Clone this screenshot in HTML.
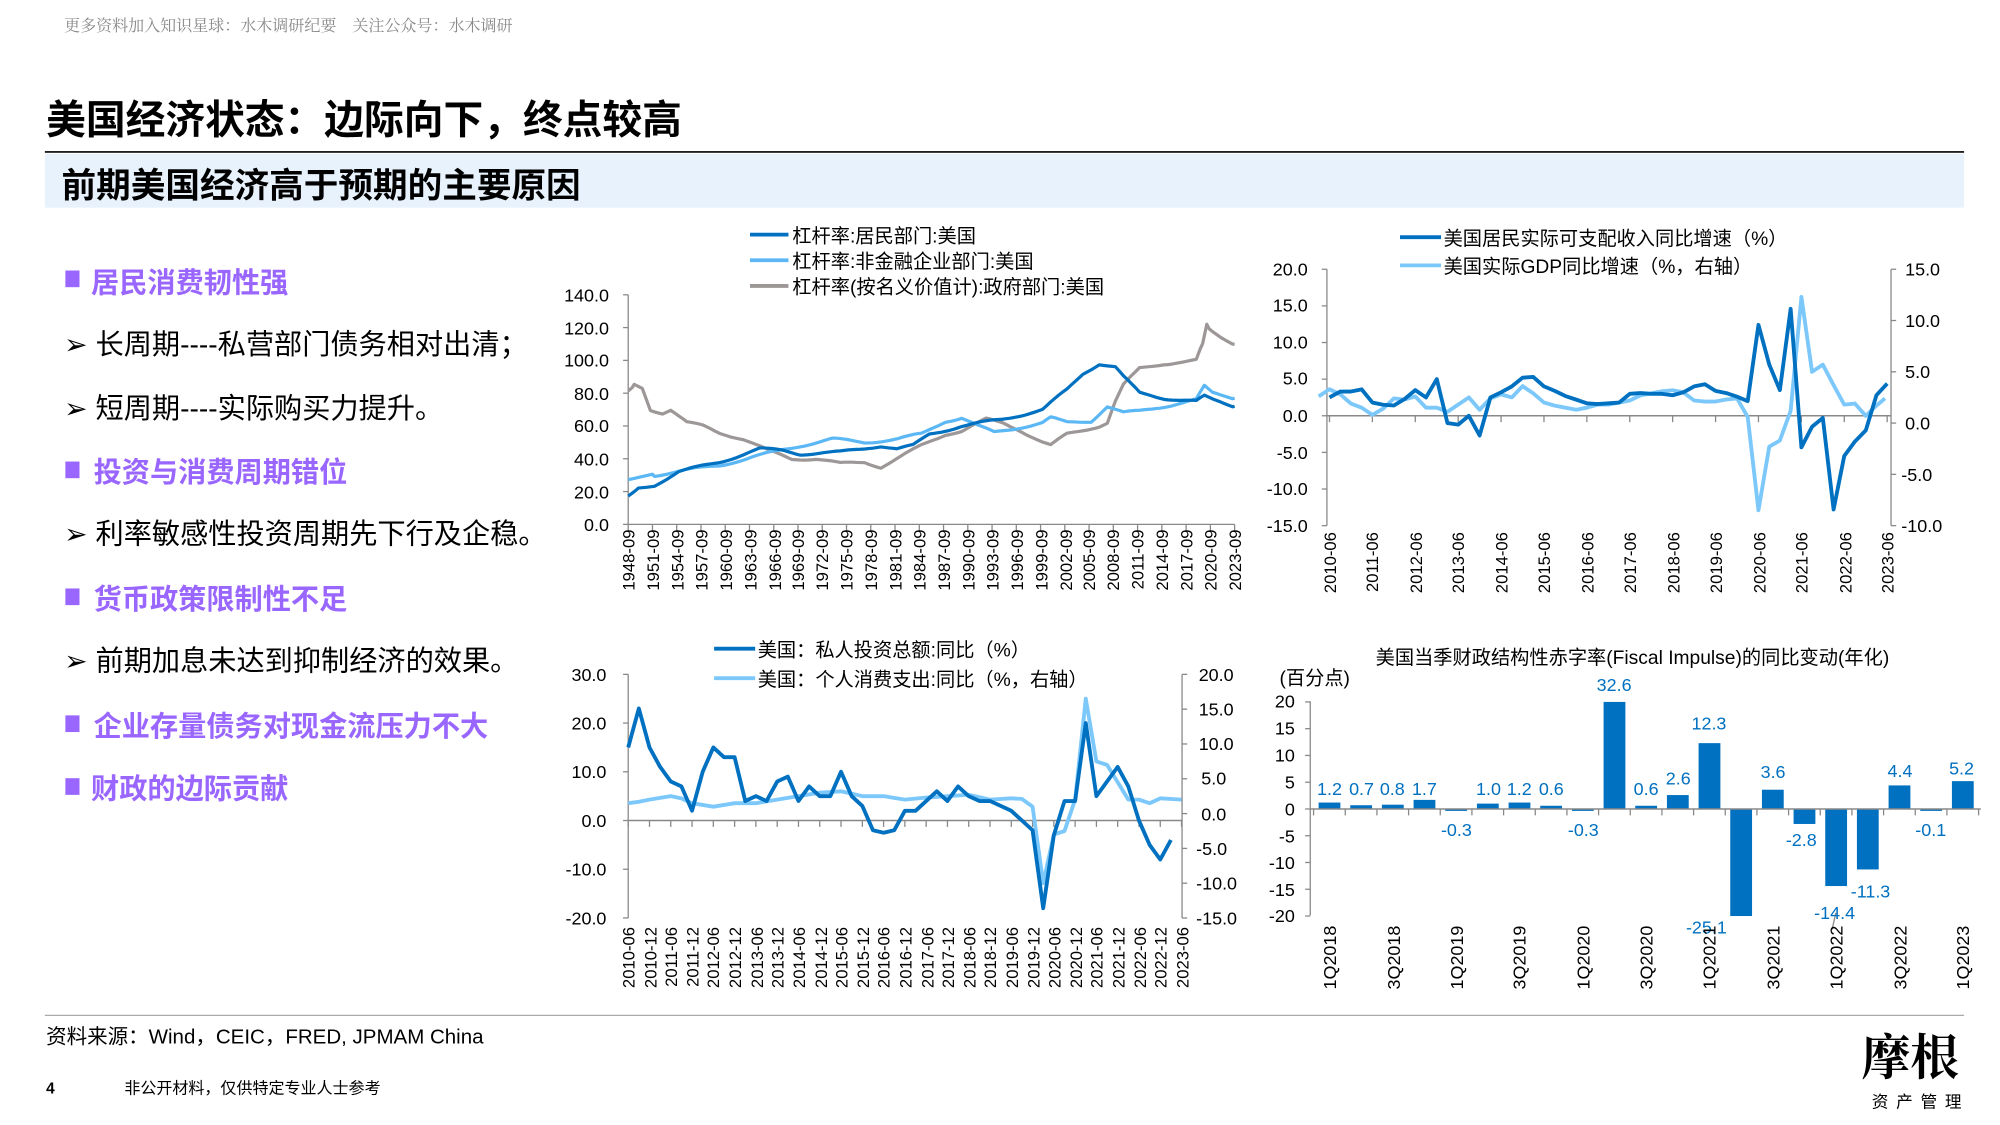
<!DOCTYPE html>
<html><head><meta charset="utf-8">
<style>
html,body{margin:0;padding:0;background:#fff;}
svg{display:block;}
text{font-family:"Liberation Sans","Noto Sans CJK SC",sans-serif;}
.t{font-size:14px;fill:#000;}
.lg{font-size:15px;fill:#000;}
.ax{stroke:#888;stroke-width:1;fill:none;}
</style></head>
<body>
<svg id="s" width="2000" height="1125" viewBox="0 0 1560 877.5" preserveAspectRatio="none" xmlns="http://www.w3.org/2000/svg">
<text x="50" y="24" style="font-size:12.5px;fill:#888;font-family:'Noto Serif CJK SC',serif">更多资料加入知识星球：水木调研纪要　关注公众号：水木调研</text>
<text x="36" y="104" style="font-size:31px;font-weight:bold;fill:#000">美国经济状态：边际向下，终点较高</text>
<line x1="35" y1="118.5" x2="1532" y2="118.5" stroke="#000" stroke-width="1.2"/>
<rect x="35" y="120" width="1497" height="42" fill="#e8f2fc"/>
<text x="48" y="154" style="font-size:27px;font-weight:bold;fill:#000">前期美国经济高于预期的主要原因</text>

<g style="font-size:22px">
<rect x="51" y="211" width="11" height="13" fill="#9966ff"/><text x="71" y="228" style="font-weight:bold;fill:#9966ff">居民消费韧性强</text>
<text x="50" y="276" fill="#000">➢ 长周期----私营部门债务相对出清；</text>
<text x="50" y="326" fill="#000">➢ 短周期----实际购买力提升。</text>
<rect x="51" y="360" width="11" height="13" fill="#9966ff"/><text x="73" y="376" style="font-weight:bold;fill:#9966ff">投资与消费周期错位</text>
<text x="50" y="424" fill="#000">➢ 利率敏感性投资周期先下行及企稳。</text>
<rect x="51" y="459" width="11" height="13" fill="#9966ff"/><text x="73" y="475" style="font-weight:bold;fill:#9966ff">货币政策限制性不足</text>
<text x="50" y="523" fill="#000">➢ 前期加息未达到抑制经济的效果。</text>
<rect x="51" y="558" width="11" height="13" fill="#9966ff"/><text x="73" y="574" style="font-weight:bold;fill:#9966ff">企业存量债务对现金流压力不大</text>
<rect x="51" y="607" width="11" height="13" fill="#9966ff"/><text x="71" y="623" style="font-weight:bold;fill:#9966ff">财政的边际贡献</text>
</g>

<!-- Chart 1 -->
<g>
<line x1="585" y1="183" x2="615" y2="183" stroke="#0070c0" stroke-width="3"/><text class="lg" x="618" y="189">杠杆率:居民部门:美国</text>
<line x1="585" y1="203" x2="615" y2="203" stroke="#5bb8f5" stroke-width="3"/><text class="lg" x="618" y="209">杠杆率:非金融企业部门:美国</text>
<line x1="585" y1="223" x2="615" y2="223" stroke="#9d9797" stroke-width="3"/><text class="lg" x="618" y="229">杠杆率(按名义价值计):政府部门:美国</text>
<line class="ax" x1="490" y1="230" x2="490" y2="409"/>
<line class="ax" x1="490" y1="409" x2="963" y2="409"/>
<g class="t" text-anchor="end">
<text x="475" y="235">140.0</text><text x="475" y="261">120.0</text><text x="475" y="286">100.0</text><text x="475" y="312">80.0</text><text x="475" y="337">60.0</text><text x="475" y="363">40.0</text><text x="475" y="389">20.0</text><text x="475" y="414">0.0</text>
</g>
<g id="c1ticks"></g>
<g class="t" text-anchor="end" style="font-size:13px">
<text transform="translate(495,413) rotate(-90)">1948-09</text>
<text transform="translate(514,413) rotate(-90)">1951-09</text>
<text transform="translate(533,413) rotate(-90)">1954-09</text>
<text transform="translate(552,413) rotate(-90)">1957-09</text>
<text transform="translate(571,413) rotate(-90)">1960-09</text>
<text transform="translate(590,413) rotate(-90)">1963-09</text>
<text transform="translate(609,413) rotate(-90)">1966-09</text>
<text transform="translate(627,413) rotate(-90)">1969-09</text>
<text transform="translate(646,413) rotate(-90)">1972-09</text>
<text transform="translate(665,413) rotate(-90)">1975-09</text>
<text transform="translate(684,413) rotate(-90)">1978-09</text>
<text transform="translate(703,413) rotate(-90)">1981-09</text>
<text transform="translate(722,413) rotate(-90)">1984-09</text>
<text transform="translate(741,413) rotate(-90)">1987-09</text>
<text transform="translate(760,413) rotate(-90)">1990-09</text>
<text transform="translate(779,413) rotate(-90)">1993-09</text>
<text transform="translate(798,413) rotate(-90)">1996-09</text>
<text transform="translate(817,413) rotate(-90)">1999-09</text>
<text transform="translate(836,413) rotate(-90)">2002-09</text>
<text transform="translate(854,413) rotate(-90)">2005-09</text>
<text transform="translate(873,413) rotate(-90)">2008-09</text>
<text transform="translate(892,413) rotate(-90)">2011-09</text>
<text transform="translate(911,413) rotate(-90)">2014-09</text>
<text transform="translate(930,413) rotate(-90)">2017-09</text>
<text transform="translate(949,413) rotate(-90)">2020-09</text>
<text transform="translate(968,413) rotate(-90)">2023-09</text>
</g>
<g id="c1"></g>
</g>

<!-- Chart 2 -->
<g>
<line x1="1092" y1="185" x2="1124" y2="185" stroke="#0070c0" stroke-width="3"/><text class="lg" x="1126" y="191">美国居民实际可支配收入同比增速（%）</text>
<line x1="1092" y1="207" x2="1124" y2="207" stroke="#7cc8fb" stroke-width="3"/><text class="lg" x="1126" y="213">美国实际GDP同比增速（%，右轴）</text>
<line class="ax" x1="1035" y1="210" x2="1035" y2="410"/>
<line class="ax" x1="1475" y1="210" x2="1475" y2="410"/>
<g class="t" text-anchor="end">
<text x="1020" y="215">20.0</text><text x="1020" y="243">15.0</text><text x="1020" y="272">10.0</text><text x="1020" y="300">5.0</text><text x="1020" y="329">0.0</text><text x="1020" y="358">-5.0</text><text x="1020" y="386">-10.0</text><text x="1020" y="415">-15.0</text>
</g>
<g class="t">
<text x="1486" y="215">15.0</text><text x="1486" y="255">10.0</text><text x="1486" y="295">5.0</text><text x="1486" y="335">0.0</text><text x="1483" y="375">-5.0</text><text x="1483" y="415">-10.0</text>
</g>
<g id="c2ticks"></g>
<g class="t" text-anchor="end" style="font-size:13px">
<text transform="translate(1042,415) rotate(-90)">2010-06</text>
<text transform="translate(1075,415) rotate(-90)">2011-06</text>
<text transform="translate(1109,415) rotate(-90)">2012-06</text>
<text transform="translate(1142,415) rotate(-90)">2013-06</text>
<text transform="translate(1176,415) rotate(-90)">2014-06</text>
<text transform="translate(1209,415) rotate(-90)">2015-06</text>
<text transform="translate(1243,415) rotate(-90)">2016-06</text>
<text transform="translate(1276,415) rotate(-90)">2017-06</text>
<text transform="translate(1310,415) rotate(-90)">2018-06</text>
<text transform="translate(1343,415) rotate(-90)">2019-06</text>
<text transform="translate(1377,415) rotate(-90)">2020-06</text>
<text transform="translate(1410,415) rotate(-90)">2021-06</text>
<text transform="translate(1444,415) rotate(-90)">2022-06</text>
<text transform="translate(1477,415) rotate(-90)">2023-06</text>
</g>
<g id="c2"></g>
</g>

<!-- Chart 3 -->
<g>
<line x1="557" y1="506" x2="589" y2="506" stroke="#0070c0" stroke-width="3"/><text class="lg" x="591" y="512">美国：私人投资总额:同比（%）</text>
<line x1="557" y1="529" x2="589" y2="529" stroke="#7cc8fb" stroke-width="3"/><text class="lg" x="591" y="535">美国：个人消费支出:同比（%，右轴）</text>
<line class="ax" x1="490" y1="526" x2="490" y2="716"/>
<line class="ax" x1="922" y1="526" x2="922" y2="716"/>
<g class="t" text-anchor="end">
<text x="473" y="531">30.0</text><text x="473" y="569">20.0</text><text x="473" y="607">10.0</text><text x="473" y="645">0.0</text><text x="473" y="683">-10.0</text><text x="473" y="721">-20.0</text>
</g>
<g class="t">
<text x="935" y="531">20.0</text><text x="935" y="558">15.0</text><text x="935" y="585">10.0</text><text x="937" y="612">5.0</text><text x="937" y="640">0.0</text><text x="933" y="667">-5.0</text><text x="933" y="694">-10.0</text><text x="933" y="721">-15.0</text>
</g>
<g id="c3ticks"></g>
<g class="t" text-anchor="end" style="font-size:13px" id="c3lab">
<text transform="translate(495,723) rotate(-90)">2010-06</text>
<text transform="translate(512,723) rotate(-90)">2010-12</text>
<text transform="translate(528,723) rotate(-90)">2011-06</text>
<text transform="translate(545,723) rotate(-90)">2011-12</text>
<text transform="translate(561,723) rotate(-90)">2012-06</text>
<text transform="translate(578,723) rotate(-90)">2012-12</text>
<text transform="translate(595,723) rotate(-90)">2013-06</text>
<text transform="translate(611,723) rotate(-90)">2013-12</text>
<text transform="translate(628,723) rotate(-90)">2014-06</text>
<text transform="translate(645,723) rotate(-90)">2014-12</text>
<text transform="translate(661,723) rotate(-90)">2015-06</text>
<text transform="translate(678,723) rotate(-90)">2015-12</text>
<text transform="translate(694,723) rotate(-90)">2016-06</text>
<text transform="translate(711,723) rotate(-90)">2016-12</text>
<text transform="translate(728,723) rotate(-90)">2017-06</text>
<text transform="translate(744,723) rotate(-90)">2017-12</text>
<text transform="translate(761,723) rotate(-90)">2018-06</text>
<text transform="translate(777,723) rotate(-90)">2018-12</text>
<text transform="translate(794,723) rotate(-90)">2019-06</text>
<text transform="translate(811,723) rotate(-90)">2019-12</text>
<text transform="translate(827,723) rotate(-90)">2020-06</text>
<text transform="translate(844,723) rotate(-90)">2020-12</text>
<text transform="translate(860,723) rotate(-90)">2021-06</text>
<text transform="translate(877,723) rotate(-90)">2021-12</text>
<text transform="translate(894,723) rotate(-90)">2022-06</text>
<text transform="translate(910,723) rotate(-90)">2022-12</text>
<text transform="translate(927,723) rotate(-90)">2023-06</text>
</g>
<g id="c3"></g>
</g>

<!-- Chart 4 -->
<g>
<text class="lg" x="1073" y="518">美国当季财政结构性赤字率(Fiscal Impulse)的同比变动(年化)</text>
<text class="lg" x="998" y="534">(百分点)</text>
<line class="ax" x1="1022" y1="547" x2="1022" y2="714"/>
<g class="t" text-anchor="end">
<text x="1010" y="552">20</text><text x="1010" y="573">15</text><text x="1010" y="594">10</text><text x="1010" y="615">5</text><text x="1010" y="636">0</text><text x="1010" y="657">-5</text><text x="1010" y="678">-10</text><text x="1010" y="699">-15</text><text x="1010" y="719">-20</text>
</g>
<g id="c4"></g>
<g class="t" text-anchor="middle" style="fill:#0070c0">
<text x="1037" y="620">1.2</text><text x="1062" y="620">0.7</text><text x="1086" y="620">0.8</text><text x="1111" y="620">1.7</text>
<text x="1136" y="652">-0.3</text><text x="1161" y="620">1.0</text><text x="1185" y="620">1.2</text><text x="1210" y="620">0.6</text>
<text x="1235" y="652">-0.3</text><text x="1259" y="539">32.6</text><text x="1284" y="620">0.6</text><text x="1309" y="612">2.6</text>
<text x="1333" y="569">12.3</text><text x="1331" y="728">-25.1</text><text x="1383" y="607">3.6</text><text x="1405" y="660">-2.8</text>
<text x="1431" y="717">-14.4</text><text x="1459" y="700">-11.3</text><text x="1482" y="606">4.4</text><text x="1506" y="652">-0.1</text><text x="1530" y="604">5.2</text>
</g>
<g class="t" text-anchor="end" style="font-size:14px">
<text transform="translate(1042,722) rotate(-90)">1Q2018</text>
<text transform="translate(1092,722) rotate(-90)">3Q2018</text>
<text transform="translate(1141,722) rotate(-90)">1Q2019</text>
<text transform="translate(1190,722) rotate(-90)">3Q2019</text>
<text transform="translate(1240,722) rotate(-90)">1Q2020</text>
<text transform="translate(1289,722) rotate(-90)">3Q2020</text>
<text transform="translate(1338,722) rotate(-90)">1Q2021</text>
<text transform="translate(1388,722) rotate(-90)">3Q2021</text>
<text transform="translate(1437,722) rotate(-90)">1Q2022</text>
<text transform="translate(1487,722) rotate(-90)">3Q2022</text>
<text transform="translate(1536,722) rotate(-90)">1Q2023</text>
</g>
</g>

<line x1="35" y1="792" x2="1532" y2="792" stroke="#aaa" stroke-width="1"/>
<text x="36" y="814" style="font-size:16px;fill:#000">资料来源：Wind，CEIC，FRED, JPMAM China</text>
<text x="36" y="853" style="font-size:12px;font-weight:bold;fill:#000">4</text>
<text x="97" y="853" style="font-size:12.5px;fill:#000">非公开材料，仅供特定专业人士参考</text>
<text x="1452" y="838" style="font-size:38px;font-weight:bold;fill:#000;font-family:'Noto Serif CJK SC',serif">摩根</text>
<text x="1460" y="864" style="font-size:13px;fill:#000;letter-spacing:6px">资产管理</text>
</svg>
<script>
var NS="http://www.w3.org/2000/svg";
function pl(id,pts,col,w){var p=document.createElementNS(NS,"polyline");p.setAttribute("points",pts.map(function(a){return a[0].toFixed(1)+","+a[1].toFixed(1)}).join(" "));p.setAttribute("fill","none");p.setAttribute("stroke",col);p.setAttribute("stroke-width",w);p.setAttribute("stroke-linejoin","round");document.getElementById(id).appendChild(p);}
function ln(id,x1,y1,x2,y2,c,w){var l=document.createElementNS(NS,"line");l.setAttribute("x1",x1);l.setAttribute("y1",y1);l.setAttribute("x2",x2);l.setAttribute("y2",y2);l.setAttribute("stroke",c||"#888");l.setAttribute("stroke-width",w||1);document.getElementById(id).appendChild(l);}
function rect(id,x,y,w,h,c){var r=document.createElementNS(NS,"rect");r.setAttribute("x",x);r.setAttribute("y",y);r.setAttribute("width",w);r.setAttribute("height",h);r.setAttribute("fill",c);document.getElementById(id).appendChild(r);}
function interp(d,step){var out=[];for(var i=0;i<d.length-1;i++){var a=d[i],b=d[i+1];for(var t=a[0];t<b[0]-1e-6;t+=step){var f=(t-a[0])/(b[0]-a[0]);out.push([t,a[1]+(b[1]-a[1])*f+(Math.sin(t*37)*0.8)]);}}out.push(d[d.length-1]);return out;}
// chart1
var X1=function(y){return 490+(y-1948.75)*6.307},Y1=function(v){return 409-v*1.279};
for(var i=0;i<26;i++)ln("c1ticks",490+i*18.92,409,490+i*18.92,414);
[0,20,40,60,80,100,120,140].forEach(function(v){ln("c1ticks",486,Y1(v),490,Y1(v));});
var hh=[[1948.75,18],[1950,22],[1952,24],[1955,32],[1960,38],[1965,46],[1968,45],[1970,43],[1975,44],[1980,48],[1982,46],[1984,48],[1986,55],[1990,60],[1995,64],[2000,70],[2003,82],[2005,92],[2007,98],[2009,96],[2010,90],[2012,80],[2015,77],[2019,75],[2020,78],[2021,76],[2023.75,72]];
var nf=[[1948.75,28],[1952,30],[1960,36],[1965,42],[1970,48],[1974,52],[1978,50],[1982,52],[1985,55],[1988,63],[1990,65],[1992,60],[1994,56],[2000,62],[2001,65],[2003,62],[2006,63],[2008,72],[2010,68],[2012,69],[2015,72],[2019,76],[2020,84],[2021,80],[2023.75,77]];
var gv=[[1948.75,82],[1949.5,85],[1950.5,83],[1951.5,70],[1953,68],[1954,70],[1956,62],[1958,60],[1960,56],[1963,52],[1966,45],[1969,40],[1972,40],[1975,37],[1978,38],[1980,35],[1982,40],[1985,48],[1988,55],[1990,57],[1993,64],[1995,62],[1997,58],[2000,50],[2001,48],[2003,55],[2007,60],[2008,62],[2009,75],[2010,85],[2012,95],[2015,98],[2019,100],[2019.8,110],[2020.3,122],[2020.6,120],[2021,117],[2022,114],[2023.75,110]];
[[gv,"#9d9797"],[nf,"#5bb8f5"],[hh,"#0070c0"]].forEach(function(s){pl("c1",interp(s[0],0.5).map(function(a){return[X1(a[0]),Y1(a[1])]}),s[1],2.5);});
// chart2
var X2=function(y){return 1037+(y-2010.5)*33.46},L2=function(v){return 324.3-v*5.714},R2=function(v){return 330-v*8};
ln("c2ticks",1035,L2(0),1475,L2(0),"#888",1.2);
for(var i=0;i<14;i++)ln("c2ticks",1037+i*33.46,L2(0),1037+i*33.46,L2(0)+5);
[20,15,10,5,0,-5,-10,-15].forEach(function(v){ln("c2ticks",1031,L2(v),1035,L2(v));});
[15,10,5,0,-5,-10].forEach(function(v){ln("c2ticks",1475,R2(v),1479,R2(v));});
var inc=[[2010.5,2.5],[2010.75,3.3],[2011,3.3],[2011.25,3.6],[2011.5,1.8],[2011.75,1.5],[2012,1.4],[2012.25,2.3],[2012.5,3.5],[2012.75,2.5],[2013,5],[2013.25,-1],[2013.5,-1.2],[2013.75,0],[2014,-2.7],[2014.25,2.5],[2014.5,3.2],[2014.75,4],[2015,5.2],[2015.25,5.3],[2015.5,4],[2015.75,3.4],[2016,2.7],[2016.25,2.2],[2016.5,1.7],[2016.75,1.6],[2017,1.7],[2017.25,1.8],[2017.5,3],[2017.75,3.1],[2018,3],[2018.25,3],[2018.5,2.8],[2018.75,3.2],[2019,4],[2019.25,4.3],[2019.5,3.4],[2019.75,3.1],[2020,2.6],[2020.25,2],[2020.5,12.4],[2020.75,7],[2021,3.5],[2021.25,14.6],[2021.5,-4.3],[2021.75,-1.5],[2022,-0.3],[2022.25,-12.8],[2022.5,-5.5],[2022.75,-3.5],[2023,-2],[2023.25,2.8],[2023.5,4.4]];
var gdp=[[2010.5,2.6],[2010.75,3.3],[2011,2.8],[2011.25,1.9],[2011.5,1.5],[2011.75,0.8],[2012,1.4],[2012.25,2.4],[2012.5,2.3],[2012.75,2.6],[2013,1.5],[2013.25,1.5],[2013.5,1.1],[2013.75,1.8],[2014,2.5],[2014.25,1.3],[2014.5,2.4],[2014.75,2.8],[2015,2.5],[2015.25,3.6],[2015.5,2.9],[2015.75,2],[2016,1.7],[2016.25,1.5],[2016.5,1.3],[2016.75,1.5],[2017,1.8],[2017.25,1.8],[2017.5,2],[2017.75,2.2],[2018,2.7],[2018.25,2.9],[2018.5,3.1],[2018.75,3.2],[2019,3],[2019.25,2.2],[2019.5,2.1],[2019.75,2.1],[2020,2.3],[2020.25,2.4],[2020.5,0.6],[2020.75,-8.5],[2021,-2.3],[2021.25,-1.7],[2021.5,1.2],[2021.75,12.3],[2022,5],[2022.25,5.7],[2022.5,3.7],[2022.75,1.8],[2023,1.9],[2023.25,0.7],[2023.5,1.7],[2023.7,2.4]];
pl("c2",gdp.map(function(a){return[X2(a[0]-0.25),R2(a[1])]}),"#7cc8fb",3);
pl("c2",inc.map(function(a){return[X2(a[0]),L2(a[1])]}),"#0070c0",3);
// chart3
var X3=function(y){return 490+(y-2010.5)*33.2},L3=function(v){return 640-v*3.8},R3=function(v){return 634.6-v*5.43};
ln("c3ticks",490,L3(0),922,L3(0),"#888",1.2);
for(var i=0;i<27;i++)ln("c3ticks",490+i*16.6,L3(0),490+i*16.6,L3(0)+5);
[30,20,10,0,-10,-20].forEach(function(v){ln("c3ticks",486,L3(v),490,L3(v));});
[20,15,10,5,0,-5,-10,-15].forEach(function(v){ln("c3ticks",922,R3(v),926,R3(v));});
var inv=[[2010.5,15],[2010.75,23],[2011,15],[2011.25,11],[2011.5,8],[2011.75,7],[2012,2],[2012.25,10],[2012.5,15],[2012.75,13],[2013,13],[2013.25,4],[2013.5,5],[2013.75,4],[2014,8],[2014.25,9],[2014.5,4],[2014.75,7],[2015,5],[2015.25,5],[2015.5,10],[2015.75,5],[2016,3],[2016.25,-2],[2016.5,-2.5],[2016.75,-2],[2017,2],[2017.25,2],[2017.5,4],[2017.75,6],[2018,4],[2018.25,7],[2018.5,5],[2018.75,4],[2019,4],[2019.25,3],[2019.5,2],[2019.75,0],[2020,-2],[2020.25,-18],[2020.5,-3],[2020.75,4],[2021,4],[2021.25,20],[2021.5,5],[2021.75,8],[2022,11],[2022.25,7],[2022.5,0],[2022.75,-5],[2023,-8],[2023.25,-4]];
var pce=[[2010.5,1.5],[2010.75,1.7],[2011,2],[2011.5,2.5],[2011.75,2.2],[2012,1.5],[2012.5,1],[2013,1.5],[2013.5,1.5],[2014,2],[2014.5,2.5],[2015,3],[2015.5,3.2],[2016,2.5],[2016.5,2.5],[2017,2],[2017.5,2.3],[2018,2.5],[2018.5,2.7],[2019,2],[2019.5,2.2],[2019.75,2.1],[2020,1],[2020.25,-10],[2020.5,-3],[2020.75,-2.5],[2021,2],[2021.25,16.5],[2021.5,7.5],[2021.75,7],[2022,4.5],[2022.25,2],[2022.5,2],[2022.75,1.5],[2023,2.2],[2023.5,2]];
pl("c3",pce.map(function(a){return[X3(a[0]),R3(a[1])]}),"#7cc8fb",3);
pl("c3",inv.map(function(a){return[X3(a[0]),L3(a[1])]}),"#0070c0",3);
// chart4
var vals=[1.2,0.7,0.8,1.7,-0.3,1.0,1.2,0.6,-0.3,32.6,0.6,2.6,12.3,-25.1,3.6,-2.8,-14.4,-11.3,4.4,-0.1,5.2];
var Y4=function(v){return 631-v*4.175};
vals.forEach(function(v,i){var x=1037+i*24.7,c=Math.max(-20,Math.min(20,v));var y0=Y4(0),y1=Y4(c);rect("c4",x-8.5,Math.min(y0,y1),17,Math.max(1.5,Math.abs(y1-y0)),"#0070c0");});
ln("c4",1022,Y4(0),1545,Y4(0),"#888",1.2);
for(var i=0;i<=21;i++)ln("c4",1024.6+i*24.7,Y4(0),1024.6+i*24.7,Y4(0)+5);
[20,15,10,5,0,-5,-10,-15,-20].forEach(function(v){ln("c4",1018,Y4(v),1022,Y4(v));});
ln("c4",1432,712,1429,725,"#888",1);
</script>
</body></html>
